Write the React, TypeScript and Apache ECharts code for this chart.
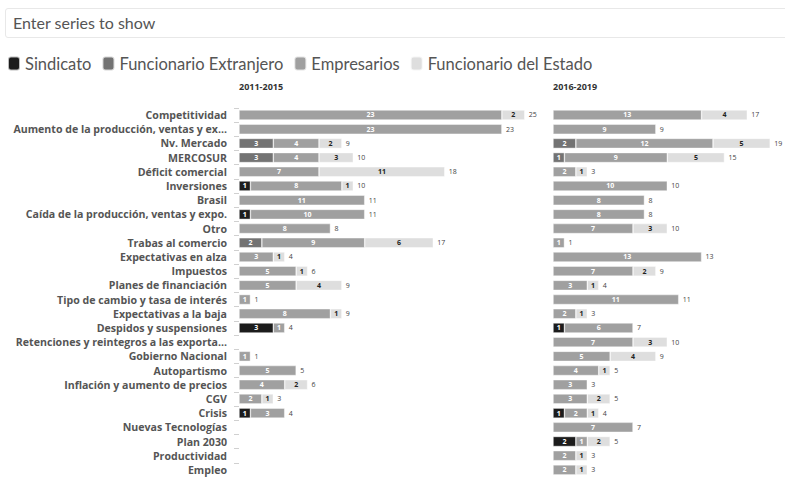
import React, { useEffect, useRef } from "react";
import * as echarts from "echarts";

const categories = [
  "Competitividad",
  "Aumento de la producción, ventas y ex...",
  "Nv. Mercado",
  "MERCOSUR",
  "Déficit comercial",
  "Inversiones",
  "Brasil",
  "Caída de la producción, ventas y expo.",
  "Otro",
  "Trabas al comercio",
  "Expectativas en alza",
  "Impuestos",
  "Planes de financiación",
  "Tipo de cambio y tasa de interés",
  "Expectativas a la baja",
  "Despidos y suspensiones",
  "Retenciones y reintegros a las exporta...",
  "Gobierno Nacional",
  "Autopartismo",
  "Inflación y aumento de precios",
  "CGV",
  "Crisis",
  "Nuevas Tecnologías",
  "Plan 2030",
  "Productividad",
  "Empleo",
];

const seriesNames = ["Sindicato", "Funcionario Extranjero", "Empresarios", "Funcionario del Estado"];
const periodTitles = ["2011-2015", "2016-2019"];

// 2011-2015
const sindicato1 = [0, 0, 0, 0, 0, 1, 0, 1, 0, 0, 0, 0, 0, 0, 0, 3, 0, 0, 0, 0, 0, 1, 0, 0, 0, 0];
const funcExt1 = [0, 0, 3, 3, 0, 0, 0, 0, 0, 2, 0, 0, 0, 0, 0, 0, 0, 0, 0, 0, 0, 0, 0, 0, 0, 0];
const empresarios1 = [23, 23, 4, 4, 7, 8, 11, 10, 8, 9, 3, 5, 5, 1, 8, 1, 0, 1, 5, 4, 2, 3, 0, 0, 0, 0];
const funcEstado1 = [2, 0, 2, 3, 11, 1, 0, 0, 0, 6, 1, 1, 4, 0, 1, 0, 0, 0, 0, 2, 1, 0, 0, 0, 0, 0];

// 2016-2019
const sindicato2 = [0, 0, 0, 0, 0, 0, 0, 0, 0, 0, 0, 0, 0, 0, 0, 1, 0, 0, 0, 0, 0, 1, 0, 2, 0, 0];
const funcExt2 = [0, 0, 2, 1, 0, 0, 0, 0, 0, 0, 0, 0, 0, 0, 0, 0, 0, 0, 0, 0, 0, 0, 0, 0, 0, 0];
const empresarios2 = [13, 9, 12, 9, 2, 10, 8, 8, 7, 1, 13, 7, 3, 11, 2, 6, 7, 5, 4, 3, 3, 2, 7, 1, 2, 2];
const funcEstado2 = [4, 0, 5, 5, 1, 0, 0, 0, 3, 0, 0, 2, 1, 0, 1, 0, 3, 4, 1, 0, 2, 1, 0, 2, 1, 1];

const colors = ["#1c1c1c", "#737373", "#a0a0a0", "#dedede"];
const labelColors = ["#ffffff", "#ffffff", "#ffffff", "#222222"];

export default function App() {
  const ref = useRef<HTMLDivElement>(null);

  useEffect(() => {
    document.body.style.margin = "0";
    if (!ref.current) return;
    const chart = echarts.init(ref.current, null, { renderer: "svg" });

    const unit = 11.43;
    const rowH = 14.2;
    const gridTop = 115 - rowH / 2;
    const gridH = rowH * categories.length;

    const panels = [
      { data: [sindicato1, funcExt1, empresarios1, funcEstado1], left: 239, max: 25 },
      { data: [sindicato2, funcExt2, empresarios2, funcEstado2], left: 553, max: 19 },
    ];

    const series: any[] = [];
    panels.forEach((p, gi) => {
      p.data.forEach((arr, si) => {
        series.push({
          name: seriesNames[si],
          type: "bar",
          stack: "s" + gi,
          xAxisIndex: gi,
          yAxisIndex: gi,
          barWidth: 10,
          color: colors[si],
          itemStyle: { color: colors[si], borderColor: "rgba(255,255,255,0.7)", borderWidth: 0.6 },
          label: {
            show: true,
            position: "inside",
            fontSize: 7,
            fontWeight: "bold",
            fontFamily: "Open Sans",
            color: labelColors[si],
            formatter: (pr: any) => (pr.value > 0 ? String(pr.value) : ""),
          },
          data: arr.map((v) => (v > 0 ? v : "-")),
        });
      });
      const totals = categories.map((_, i) => p.data.reduce((s, a) => s + a[i], 0));
      series.push({
        name: "total" + gi,
        type: "bar",
        stack: "s" + gi,
        xAxisIndex: gi,
        yAxisIndex: gi,
        barWidth: 10,
        itemStyle: { color: "transparent" },
        label: {
          show: true,
          position: "right",
          distance: 4,
          fontSize: 7,
          fontFamily: "Open Sans",
          color: "#444",
          formatter: (pr: any) => (totals[pr.dataIndex] > 0 ? String(totals[pr.dataIndex]) : ""),
        },
        data: totals.map(() => 0),
      });
    });

    chart.setOption({
      animation: false,
      legend: {
        data: seriesNames,
        left: 2,
        top: 50,
        icon: "roundRect",
        itemWidth: 12,
        itemHeight: 14,
        itemGap: 10,
        textStyle: { fontSize: 16.5, color: "#555", fontFamily: "Lato" },
      },
      title: [
        {
          text: periodTitles[0],
          left: 239,
          top: 82,
          textStyle: { fontSize: 9, fontWeight: "bold", color: "#333", fontFamily: "Open Sans" },
          padding: 0,
        },
        {
          text: periodTitles[1],
          left: 553,
          top: 82,
          textStyle: { fontSize: 9, fontWeight: "bold", color: "#333", fontFamily: "Open Sans" },
          padding: 0,
        },
      ],
      grid: panels.map((p) => ({
        left: p.left,
        top: gridTop,
        width: p.max * unit,
        height: gridH,
        containLabel: false,
      })),
      xAxis: panels.map((p, gi) => ({
        type: "value",
        gridIndex: gi,
        min: 0,
        max: p.max,
        show: false,
      })),
      yAxis: panels.map((p, gi) => ({
        type: "category",
        gridIndex: gi,
        data: categories,
        inverse: true,
        axisLine: { show: false },
        axisTick: { show: gi === 0, interval: 0, length: 5, lineStyle: { color: "#d0d0d0" } },
        axisLabel: {
          show: gi === 0,
          interval: 0,
          margin: 12,
          fontSize: 10.6,
          fontWeight: "bold",
          fontFamily: "Open Sans",
          color: "#555",
        },
      })),
      series,
    });

    return () => chart.dispose();
  }, []);

  return (
    <div style={{ position: "relative", width: 785, height: 477, background: "#fff", overflow: "hidden" }}>
      <div
        style={{
          position: "absolute",
          left: 5,
          top: 8,
          width: 800,
          height: 30,
          border: "1px solid #e8e8e8",
          borderRadius: 3,
          boxSizing: "border-box",
          fontFamily: "Lato",
          fontSize: 16,
          color: "#555",
          lineHeight: "28px",
          paddingLeft: 7,
        }}
      >
        Enter series to show
      </div>
      <div ref={ref} style={{ position: "absolute", left: 0, top: 0, width: 785, height: 477 }} />
    </div>
  );
}
